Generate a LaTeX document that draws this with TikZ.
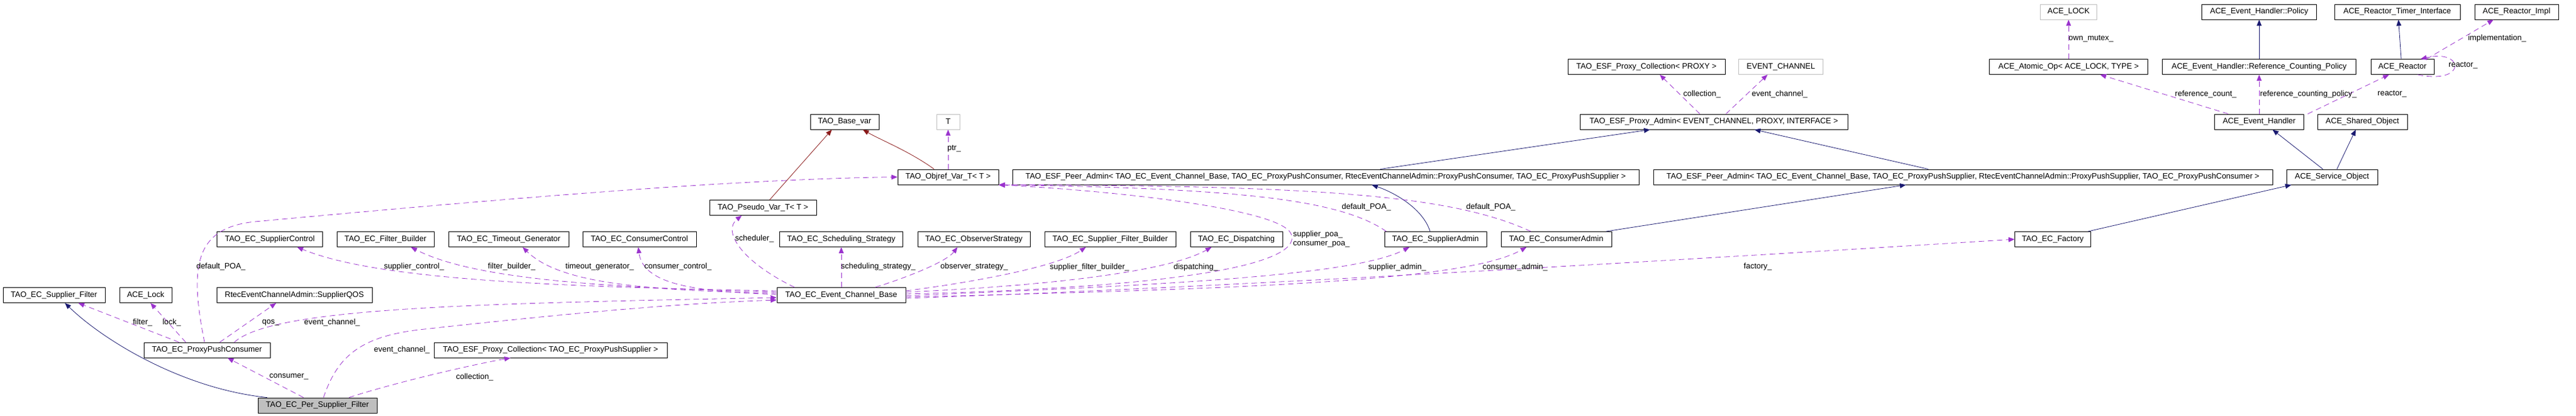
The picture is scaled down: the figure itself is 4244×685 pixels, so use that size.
\documentclass[tikz,border=0pt]{standalone}
\usepackage{fontspec}
\setmainfont{Liberation Sans}
\usepackage{xcolor}
\usetikzlibrary{arrows.meta}

\definecolor{inhblue}{HTML}{191970}
\definecolor{tplred}{HTML}{8B1A1A}
\definecolor{usepurple}{HTML}{9A32CD}
\definecolor{extgray}{HTML}{BFBFBF}

\begin{document}
\begin{tikzpicture}[x=1pt, y=-1pt,
  classbox/.style={draw=black, line width=0.9pt, minimum height=25pt, inner sep=2pt, font=\fontsize{13}{15}\selectfont},
  extbox/.style={classbox, draw=extgray},
  curbox/.style={classbox, fill=extgray},
  inherit/.style={draw=inhblue, line width=0.8pt, -{Triangle[length=10pt,width=8pt]}},
  instance/.style={draw=tplred, line width=0.8pt, -{Triangle[length=10pt,width=8pt]}},
  member/.style={draw=usepurple, line width=0.8pt, dash pattern=on 9pt off 6pt, -{Triangle[length=10pt,width=8pt]}},
  edgelabel/.style={inner sep=0pt, font=\fontsize{13}{15}\selectfont}]
  % Fix the page to the size of the diagram
  \useasboundingbox (0,0) rectangle (4244,685);

  % Class boxes, row by row
  \node[extbox, minimum width=93pt] (acelk) at (3408,19.5) {ACE\_LOCK};
  \node[classbox, minimum width=189pt] (pol) at (3722,19.5) {ACE\_Event\_Handler::Policy};
  \node[classbox, minimum width=207pt] (rti) at (3949.5,19.5) {ACE\_Reactor\_Timer\_Interface};
  \node[classbox, minimum width=138pt] (rimpl) at (4146,19.5) {ACE\_Reactor\_Impl};

  \node[classbox, minimum width=259pt] (pcolp) at (2712.5,110) {TAO\_ESF\_Proxy\_Collection< PROXY >};
  \node[extbox, minimum width=139pt] (evch) at (2934,110) {EVENT\_CHANNEL};
  \node[classbox, minimum width=261pt] (aop) at (3408,110) {ACE\_Atomic\_Op< ACE\_LOCK, TYPE >};
  \node[classbox, minimum width=319pt] (rcp) at (3722,110) {ACE\_Event\_Handler::Reference\_Counting\_Policy};
  \node[classbox, minimum width=104pt] (reactor) at (3958,110) {ACE\_Reactor};

  \node[classbox, minimum width=113pt] (bvar) at (1391.5,200.5) {TAO\_Base\_var};
  \node[extbox, minimum width=38pt] (tparam) at (1562,200.5) {T};
  \node[classbox, minimum width=441pt] (padm) at (2823.5,200.5) {TAO\_ESF\_Proxy\_Admin< EVENT\_CHANNEL, PROXY, INTERFACE >};
  \node[classbox, minimum width=147pt] (evh) at (3722,200.5) {ACE\_Event\_Handler};
  \node[classbox, minimum width=148pt] (shobj) at (3892,200.5) {ACE\_Shared\_Object};

  \node[classbox, minimum width=166pt] (ovar) at (1562,291.5) {TAO\_Objref\_Var\_T< T >};
  \node[classbox, minimum width=1032pt] (peerc) at (2184,291.5) {TAO\_ESF\_Peer\_Admin< TAO\_EC\_Event\_Channel\_Base, TAO\_EC\_ProxyPushConsumer, RtecEventChannelAdmin::ProxyPushConsumer, TAO\_EC\_ProxyPushSupplier >};
  \node[classbox, minimum width=1020pt] (peers) at (3234,291.5) {TAO\_ESF\_Peer\_Admin< TAO\_EC\_Event\_Channel\_Base, TAO\_EC\_ProxyPushSupplier, RtecEventChannelAdmin::ProxyPushSupplier, TAO\_EC\_ProxyPushConsumer >};
  \node[classbox, minimum width=150pt] (servobj) at (3842,291.5) {ACE\_Service\_Object};
  \node[classbox, minimum width=176pt] (pvar) at (1257,342) {TAO\_Pseudo\_Var\_T< T >};

  \node[classbox, minimum width=174pt] (sctl) at (444.5,394) {TAO\_EC\_SupplierControl};
  \node[classbox, minimum width=160pt] (fb) at (635,394) {TAO\_EC\_Filter\_Builder};
  \node[classbox, minimum width=198pt] (tg) at (838,394) {TAO\_EC\_Timeout\_Generator};
  \node[classbox, minimum width=187pt] (cctl) at (1053.5,394) {TAO\_EC\_ConsumerControl};
  \node[classbox, minimum width=203pt] (ss) at (1386,394) {TAO\_EC\_Scheduling\_Strategy};
  \node[classbox, minimum width=185pt] (os) at (1604.5,394) {TAO\_EC\_ObserverStrategy};
  \node[classbox, minimum width=216pt] (sfb) at (1829,394) {TAO\_EC\_Supplier\_Filter\_Builder};
  \node[classbox, minimum width=152pt] (disp) at (2037,394) {TAO\_EC\_Dispatching};
  \node[classbox, minimum width=168pt] (sadm) at (2365,394) {TAO\_EC\_SupplierAdmin};
  \node[classbox, minimum width=182pt] (cadm) at (2564,394) {TAO\_EC\_ConsumerAdmin};
  \node[classbox, minimum width=125pt] (fac) at (3382,394) {TAO\_EC\_Factory};

  \node[classbox, minimum width=168pt] (sfilt) at (89,486) {TAO\_EC\_Supplier\_Filter};
  \node[classbox, minimum width=86pt] (acelock) at (240,486) {ACE\_Lock};
  \node[classbox, minimum width=256pt] (sqos) at (485,486) {RtecEventChannelAdmin::SupplierQOS};
  \node[classbox, minimum width=212pt] (ecb) at (1386,486) {TAO\_EC\_Event\_Channel\_Base};

  \node[classbox, minimum width=208pt] (ppc) at (341,576.5) {TAO\_EC\_ProxyPushConsumer};
  \node[classbox, minimum width=384pt] (pcol) at (907,576.5) {TAO\_ESF\_Proxy\_Collection< TAO\_EC\_ProxyPushSupplier >};
  \node[curbox, minimum width=196pt] (psf) at (523,667.5) {TAO\_EC\_Per\_Supplier\_Filter};

  % Inheritance and template links
  \draw[inherit] ([xshift=-83pt]psf.north) .. controls (300,640) and (170,560) .. ([xshift=18pt]sfilt.south);
  \draw[inherit] ([xshift=-9pt]sadm.north) .. controls (2345,345) and (2300,318) .. ([xshift=76pt]peerc.south);
  \draw[inherit] ([xshift=82pt]cadm.north) -- ([xshift=-94pt]peers.south);
  \draw[inherit] ([xshift=90pt]peerc.north) -- ([xshift=-105pt]padm.south);
  \draw[inherit] ([xshift=-57pt]peers.north) -- ([xshift=67pt]padm.south);
  \draw[inherit] ([xshift=58pt]fac.north) -- ([xshift=-67pt]servobj.south);
  \draw[inherit] ([xshift=-15pt]servobj.north) -- ([xshift=22pt]evh.south);
  \draw[inherit] ([xshift=8pt]servobj.north) -- ([xshift=-11pt]shobj.south);
  \draw[inherit] (rcp.north) -- (pol.south);
  \draw[inherit] ([xshift=-2pt]reactor.north) -- ([xshift=2pt]rti.south);
  \draw[instance] ([xshift=11pt]pvar.north) -- ([xshift=-21pt]bvar.south);
  \draw[instance] ([xshift=-23pt]ovar.north) .. controls (1500,250) and (1450,230) .. ([xshift=30pt]bvar.south);

  % Member links
  \draw[member] ([xshift=-23pt]psf.north) -- ([xshift=34pt]ppc.south);
  \draw[member] ([xshift=-46pt]ppc.north) -- ([xshift=40pt]sfilt.south);
  \draw[member] ([xshift=-35pt]ppc.north) -- ([xshift=8pt]acelock.south);
  \draw[member] ([xshift=21pt]ppc.north) -- ([xshift=-30pt]sqos.south);
  \draw[member] ([xshift=45pt]ppc.north) .. controls (450,505) and (800,500) .. ([yshift=-4pt]ecb.west);
  \draw[member] ([xshift=-4pt]ppc.north) .. controls (312,440) and (320,375) .. (420,365) .. controls (800,330) and (1200,295) .. (ovar.west);
  \draw[member] ([xshift=10pt]psf.north) .. controls (555,590) and (590,555) .. (690,543) .. controls (900,520) and (1100,500) .. ([yshift=-8pt]ecb.west);
  \draw[member] ([xshift=52pt]psf.north) .. controls (650,630) and (780,600) .. ([xshift=-66pt]pcol.south);
  \draw[member] ([yshift=7pt]ecb.west) .. controls (900,472) and (620,460) .. ([xshift=45pt]sctl.south);
  \draw[member] ([yshift=5pt]ecb.west) .. controls (1000,474) and (780,460) .. ([xshift=42pt]fb.south);
  \draw[member] ([yshift=3pt]ecb.west) .. controls (1050,478) and (920,465) .. ([xshift=23pt]tg.south);
  \draw[member] ([yshift=1pt]ecb.west) .. controls (1150,480) and (1060,470) .. ([xshift=-2pt]cctl.south);
  \draw[member] ([xshift=-77pt]ecb.north) .. controls (1220,430) and (1190,380) .. ([xshift=-35pt]pvar.south);
  \draw[member] (ecb.north) -- (ss.south);
  \draw[member] ([xshift=56pt]ecb.north) .. controls (1500,455) and (1560,430) .. ([xshift=-27pt]os.south);
  \draw[member] ([yshift=7pt]ecb.east) .. controls (1600,465) and (1740,440) .. ([xshift=-40pt]sfb.south);
  \draw[member] ([yshift=5pt]ecb.east) .. controls (1700,472) and (1920,450) .. ([xshift=-41pt]disp.south);
  \draw[member] ([yshift=2pt]ecb.east) .. controls (1900,475) and (2150,440) .. (2127,385) .. controls (2110,345) and (1850,315) .. (ovar.south east);
  \draw[member] ([xshift=-81pt]sadm.north) .. controls (2210,330) and (2050,310) .. (ovar.south east);
  \draw[member] ([xshift=-42pt]cadm.north) .. controls (2400,325) and (2200,305) .. (ovar.south east);
  \draw[member] ([yshift=-1pt]ecb.east) .. controls (1900,470) and (2230,455) .. ([xshift=-43pt]sadm.south);
  \draw[member] ([yshift=-3pt]ecb.east) .. controls (2100,475) and (2420,460) .. ([xshift=-49pt]cadm.south);
  \draw[member] ([yshift=-5pt]ecb.east) .. controls (2000,475) and (2900,420) .. (fac.west);
  \draw[member] (ovar.north) -- (tparam.south);
  \draw[member] ([xshift=-23pt]padm.north) -- ([xshift=22pt]pcolp.south);
  \draw[member] ([xshift=20pt]padm.north) -- ([xshift=-22pt]evch.south);
  \draw[member] (aop.north) -- (acelk.south);
  \draw[member] ([xshift=-51pt]evh.north) -- ([xshift=52pt]aop.south);
  \draw[member] (evh.north) -- (rcp.south);
  \draw[member] ([xshift=80pt]evh.north) -- ([xshift=-22pt]reactor.south);
  \draw[member] ([xshift=40pt]reactor.north) -- ([xshift=-38pt]rimpl.south);
  \draw[member] ([xshift=25pt]reactor.south) .. controls (4065,140) and (4060,80) .. ([xshift=30pt]reactor.north);

  % Member names
  \node[edgelabel] (l-consumer) at (476,620) {consumer\_};
  \node[edgelabel] (l-filter) at (235,531) {filter\_};
  \node[edgelabel] (l-lock) at (283,531) {lock\_};
  \node[edgelabel] (l-qos) at (446,531) {qos\_};
  \node[edgelabel] (l-ecppc) at (547,531) {event\_channel\_};
  \node[edgelabel] (l-poappc) at (364,439) {default\_POA\_};
  \node[edgelabel] (l-ecpsf) at (662,576) {event\_channel\_};
  \node[edgelabel] (l-colpsf) at (782,621) {collection\_};
  \node[edgelabel] (l-sctl) at (682,439) {supplier\_control\_};
  \node[edgelabel] (l-fb) at (843,439) {filter\_builder\_};
  \node[edgelabel] (l-tg) at (988,439) {timeout\_generator\_};
  \node[edgelabel] (l-cctl) at (1117,439) {consumer\_control\_};
  \node[edgelabel] (l-sched) at (1243,393) {scheduler\_};
  \node[edgelabel] (l-ss) at (1447,439) {scheduling\_strategy\_};
  \node[edgelabel] (l-os) at (1605,439) {observer\_strategy\_};
  \node[edgelabel] (l-sfb) at (1795,440) {supplier\_filter\_builder\_};
  \node[edgelabel] (l-disp) at (1970,440) {dispatching\_};
  \node[edgelabel, align=left] (l-poa) at (2177,394) {supplier\_poa\_\\consumer\_poa\_};
  \node[edgelabel] (l-poasadm) at (2251,341) {default\_POA\_};
  \node[edgelabel] (l-poacadm) at (2456,341) {default\_POA\_};
  \node[edgelabel] (l-sadm) at (2302,440) {supplier\_admin\_};
  \node[edgelabel] (l-cadm) at (2496,440) {consumer\_admin\_};
  \node[edgelabel] (l-fac) at (2896,439) {factory\_};
  \node[edgelabel] (l-colpadm) at (2804,155) {collection\_};
  \node[edgelabel] (l-ecpadm) at (2932,155) {event\_channel\_};
  \node[edgelabel] (l-mutex) at (3445,64) {own\_mutex\_};
  \node[edgelabel] (l-impl) at (4114,63) {implementation\_};
  \node[edgelabel] (l-self) at (4058,108) {reactor\_};
  \node[edgelabel] (l-refcount) at (3634,155) {reference\_count\_};
  \node[edgelabel] (l-refpol) at (3803,155) {reference\_counting\_policy\_};
  \node[edgelabel] (l-reactor) at (3941,155) {reactor\_};
  \node[edgelabel] (l-ptr) at (1572,245) {ptr\_};
\end{tikzpicture}
\end{document}
